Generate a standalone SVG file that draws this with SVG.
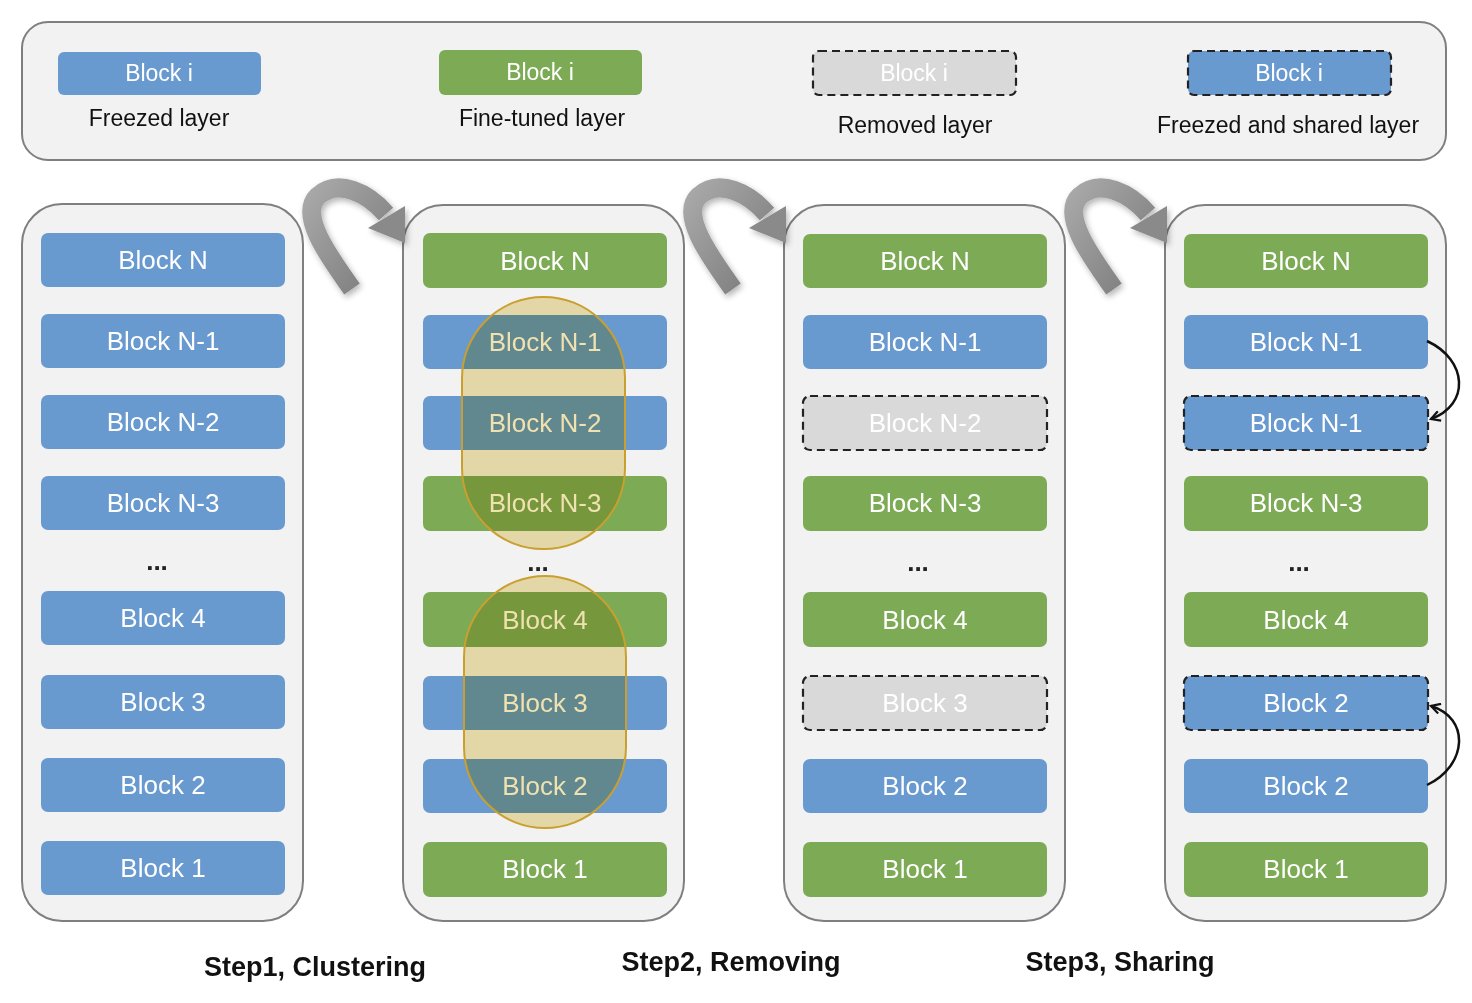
<svg xmlns="http://www.w3.org/2000/svg" width="1472" height="1003" viewBox="0 0 1472 1003">
<style>
.panel{fill:#f2f2f2;stroke:#7f7f7f;stroke-width:2}
.blue{fill:#6899cf}
.green{fill:#7daa55}
.gray{fill:#d9d9d9}
.dash{stroke:#222;stroke-width:2.2;stroke-dasharray:8 5}
.bt{font-family:"Liberation Sans",Arial,sans-serif;font-size:26px;fill:#fff;text-anchor:middle;dominant-baseline:central}
.lt{font-family:"Liberation Sans",Arial,sans-serif;font-size:23px;fill:#111;text-anchor:middle}
.lbt{font-family:"Liberation Sans",Arial,sans-serif;font-size:23px;fill:#fff;text-anchor:middle;dominant-baseline:central}
.step{font-family:"Liberation Sans",Arial,sans-serif;font-size:27px;font-weight:bold;fill:#111;text-anchor:middle}
.dots{font-family:"Liberation Sans",Arial,sans-serif;font-size:26px;font-weight:bold;fill:#222;text-anchor:middle}
.clus{fill:#f0e2b0;stroke:none;mix-blend-mode:multiply}
.clusline{fill:none;stroke:#c9a030;stroke-width:2}
.bigarrow{fill:none;stroke:url(#ga);stroke-width:19}
.conn{fill:none;stroke:#111;stroke-width:2.5}
</style>
<defs>
<linearGradient id="ga" x1="0" y1="0" x2="1" y2="1">
<stop offset="0" stop-color="#a8a8a8"/>
<stop offset="1" stop-color="#7a7a7a"/>
</linearGradient>
<filter id="sh" x="-20%" y="-20%" width="140%" height="140%">
<feGaussianBlur in="SourceAlpha" stdDeviation="3"/>
<feOffset dx="2" dy="3" result="b"/>
<feComponentTransfer><feFuncA type="linear" slope="0.3"/></feComponentTransfer>
<feMerge><feMergeNode/><feMergeNode in="SourceGraphic"/></feMerge>
</filter>
<marker id="ah" viewBox="0 0 12 12" refX="10" refY="6" markerWidth="12" markerHeight="12" markerUnits="userSpaceOnUse" orient="auto">
<path d="M1,1 L10,6 L1,11" fill="none" stroke="#111" stroke-width="2.2"/>
</marker>
</defs>

<g id="legend">
<rect x="22" y="22" width="1424" height="138" rx="26" class="panel"/>
<rect x="58" y="52" width="203" height="43" rx="6" class="blue"/>
<text x="159" y="73" class="lbt">Block i</text>
<text x="159" y="126" class="lt">Freezed layer</text>
<rect x="439" y="50" width="203" height="45" rx="6" class="green"/>
<text x="540" y="72" class="lbt">Block i</text>
<text x="542" y="126" class="lt">Fine-tuned layer</text>
<rect x="813" y="51" width="203" height="44" rx="6" class="gray dash"/>
<text x="914" y="73" class="lbt">Block i</text>
<text x="915" y="133" class="lt">Removed layer</text>
<rect x="1188" y="51" width="203" height="44" rx="6" class="blue dash"/>
<text x="1289" y="73" class="lbt">Block i</text>
<text x="1288" y="133" class="lt">Freezed and shared layer</text>
</g>

<g id="col1">
<rect x="22" y="204" width="281" height="717" rx="40" class="panel"/>
<rect x="41" y="233" width="244" height="54" rx="7" class="blue"/><text x="163" y="260" class="bt">Block N</text>
<rect x="41" y="314" width="244" height="54" rx="7" class="blue"/><text x="163" y="341" class="bt">Block N-1</text>
<rect x="41" y="395" width="244" height="54" rx="7" class="blue"/><text x="163" y="422" class="bt">Block N-2</text>
<rect x="41" y="476" width="244" height="54" rx="7" class="blue"/><text x="163" y="503" class="bt">Block N-3</text>
<text x="157" y="570" class="dots">...</text>
<rect x="41" y="591" width="244" height="54" rx="7" class="blue"/><text x="163" y="618" class="bt">Block 4</text>
<rect x="41" y="675" width="244" height="54" rx="7" class="blue"/><text x="163" y="702" class="bt">Block 3</text>
<rect x="41" y="758" width="244" height="54" rx="7" class="blue"/><text x="163" y="785" class="bt">Block 2</text>
<rect x="41" y="841" width="244" height="54" rx="7" class="blue"/><text x="163" y="868" class="bt">Block 1</text>
</g>

<g id="col2">
<rect x="403" y="205" width="281" height="716" rx="40" class="panel"/>
<rect x="423" y="233" width="244" height="55" rx="7" class="green"/><text x="545" y="261" class="bt">Block N</text>
<rect x="423" y="315" width="244" height="54" rx="7" class="blue"/><text x="545" y="342" class="bt">Block N-1</text>
<rect x="423" y="396" width="244" height="54" rx="7" class="blue"/><text x="545" y="423" class="bt">Block N-2</text>
<rect x="423" y="476" width="244" height="55" rx="7" class="green"/><text x="545" y="503" class="bt">Block N-3</text>
<text x="538" y="571" class="dots">...</text>
<rect x="423" y="592" width="244" height="55" rx="7" class="green"/><text x="545" y="620" class="bt">Block 4</text>
<rect x="423" y="676" width="244" height="54" rx="7" class="blue"/><text x="545" y="703" class="bt">Block 3</text>
<rect x="423" y="759" width="244" height="54" rx="7" class="blue"/><text x="545" y="786" class="bt">Block 2</text>
<rect x="423" y="842" width="244" height="55" rx="7" class="green"/><text x="545" y="869" class="bt">Block 1</text>
</g>

<g id="cluster1">
<rect x="462" y="297" width="163" height="252" rx="81" class="clus"/>
<rect x="462" y="297" width="163" height="252" rx="81" class="clusline"/>
</g>
<g id="cluster2">
<rect x="464" y="576" width="162" height="252" rx="81" class="clus"/>
<rect x="464" y="576" width="162" height="252" rx="81" class="clusline"/>
</g>

<g id="col3">
<rect x="784" y="205" width="281" height="716" rx="40" class="panel"/>
<rect x="803" y="234" width="244" height="54" rx="7" class="green"/><text x="925" y="261" class="bt">Block N</text>
<rect x="803" y="315" width="244" height="54" rx="7" class="blue"/><text x="925" y="342" class="bt">Block N-1</text>
<rect x="803" y="396" width="244" height="54" rx="7" class="gray dash"/><text x="925" y="423" class="bt">Block N-2</text>
<rect x="803" y="476" width="244" height="55" rx="7" class="green"/><text x="925" y="503" class="bt">Block N-3</text>
<text x="918" y="571" class="dots">...</text>
<rect x="803" y="592" width="244" height="55" rx="7" class="green"/><text x="925" y="620" class="bt">Block 4</text>
<rect x="803" y="676" width="244" height="54" rx="7" class="gray dash"/><text x="925" y="703" class="bt">Block 3</text>
<rect x="803" y="759" width="244" height="54" rx="7" class="blue"/><text x="925" y="786" class="bt">Block 2</text>
<rect x="803" y="842" width="244" height="55" rx="7" class="green"/><text x="925" y="869" class="bt">Block 1</text>
</g>

<g id="col4">
<rect x="1165" y="205" width="281" height="716" rx="40" class="panel"/>
<rect x="1184" y="234" width="244" height="54" rx="7" class="green"/><text x="1306" y="261" class="bt">Block N</text>
<rect x="1184" y="315" width="244" height="54" rx="7" class="blue"/><text x="1306" y="342" class="bt">Block N-1</text>
<rect x="1184" y="396" width="244" height="54" rx="7" class="blue dash"/><text x="1306" y="423" class="bt">Block N-1</text>
<rect x="1184" y="476" width="244" height="55" rx="7" class="green"/><text x="1306" y="503" class="bt">Block N-3</text>
<text x="1299" y="571" class="dots">...</text>
<rect x="1184" y="592" width="244" height="55" rx="7" class="green"/><text x="1306" y="620" class="bt">Block 4</text>
<rect x="1184" y="676" width="244" height="54" rx="7" class="blue dash"/><text x="1306" y="703" class="bt">Block 2</text>
<rect x="1184" y="759" width="244" height="54" rx="7" class="blue"/><text x="1306" y="786" class="bt">Block 2</text>
<rect x="1184" y="842" width="244" height="55" rx="7" class="green"/><text x="1306" y="869" class="bt">Block 1</text>
</g>

<g id="connectors">
<g filter="url(#sh)">
<path d="M352,289 C330,258 298,215 318,196 C338,178 368,193 386,214" class="bigarrow"/>
<polygon points="405,206 368,228 405,243" fill="#8a8a8a"/>
<path d="M733,289 C711,258 679,215 699,196 C719,178 749,193 767,214" class="bigarrow"/>
<polygon points="786,206 749,228 786,243" fill="#8a8a8a"/>
<path d="M1114,289 C1092,258 1060,215 1080,196 C1100,178 1130,193 1148,214" class="bigarrow"/>
<polygon points="1167,206 1130,228 1167,243" fill="#8a8a8a"/>
</g>
<path d="M1427,341 C1468,360 1470,405 1431,419" class="conn" marker-end="url(#ah)"/>
<path d="M1427,785 C1468,765 1470,718 1431,706" class="conn" marker-end="url(#ah)"/>
</g>

<g id="steps">
<text x="315" y="976" class="step">Step1, Clustering</text>
<text x="731" y="971" class="step">Step2, Removing</text>
<text x="1120" y="971" class="step">Step3, Sharing</text>
</g>
</svg>
